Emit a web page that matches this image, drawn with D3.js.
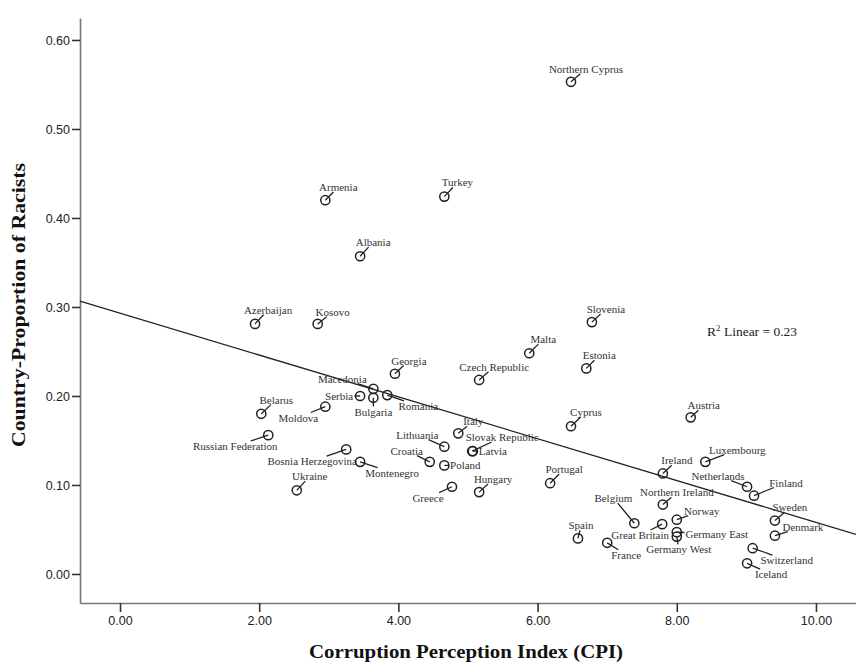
<!DOCTYPE html>
<html>
<head>
<meta charset="utf-8">
<script src="https://cdn.jsdelivr.net/npm/d3@7"></script>
<style>
  html, body { margin: 0; padding: 0; background: #fff; }
  svg { display: block; }
</style>
</head>
<body>
<svg id="chart" width="856" height="667"></svg>
<script>
// Country-level scatter: corruption perception vs. proportion of racists
const countries = [
  "Northern Cyprus", "Armenia", "Turkey", "Albania", "Azerbaijan", "Kosovo",
  "Slovenia", "Malta", "Estonia", "Georgia", "Czech Republic", "Macedonia",
  "Serbia", "Bulgaria", "Romania", "Belarus", "Moldova", "Russian Federation",
  "Bosnia Herzegovina", "Montenegro", "Ukraine", "Lithuania", "Croatia", "Italy",
  "Poland", "Slovak Republic", "Latvia", "Hungary", "Greece", "Portugal",
  "Cyprus", "Spain", "France", "Belgium", "Great Britain", "Northern Ireland",
  "Ireland", "Norway", "Germany East", "Germany West", "Austria", "Luxembourg",
  "Netherlands", "Finland", "Sweden", "Denmark", "Switzerland", "Iceland"
];
const cpi = [
  6.48, 2.95, 4.66, 3.45, 1.94, 2.84,
  6.78, 5.88, 6.70, 3.95, 5.16, 3.64,
  3.45, 3.64, 3.84, 2.03, 2.95, 2.13,
  3.25, 3.45, 2.54, 4.66, 4.45, 4.86,
  4.66, 5.06, 5.07, 5.16, 4.77, 6.18,
  6.48, 6.58, 7.00, 7.39, 7.79, 7.80,
  7.80, 8.00, 8.00, 8.00, 8.20, 8.41,
  9.01, 9.11, 9.41, 9.41, 9.09, 9.01
];
const racists = [
  0.553, 0.420, 0.424, 0.357, 0.281, 0.281,
  0.283, 0.248, 0.231, 0.225, 0.218, 0.208,
  0.200, 0.198, 0.201, 0.180, 0.188, 0.156,
  0.140, 0.126, 0.094, 0.143, 0.126, 0.158,
  0.122, 0.138, 0.138, 0.092, 0.098, 0.102,
  0.166, 0.040, 0.035, 0.057, 0.056, 0.078,
  0.113, 0.061, 0.047, 0.042, 0.176, 0.126,
  0.098, 0.088, 0.060, 0.043, 0.029, 0.012
];
const xTicks = [0, 2, 4, 6, 8, 10];
const yTicks = [0, 0.1, 0.2, 0.3, 0.4, 0.5, 0.6];

// Fitted linear regression
const fitIntercept = 0.293;
const fitSlope = -0.0235;
const rSquared = 0.23;

// Label placement: offset (px) of each label's centre from its point
const labelOffset = {
  "Northern Cyprus": [15, -13], "Armenia": [13, -13], "Turkey": [13, -14],
  "Albania": [13, -14], "Azerbaijan": [13, -14], "Kosovo": [15, -12],
  "Slovenia": [14, -13], "Malta": [14, -14], "Estonia": [13, -13],
  "Georgia": [14, -13], "Czech Republic": [15, -13], "Macedonia": [-31, -10],
  "Serbia": [-21, 0], "Bulgaria": [0, 14], "Romania": [31, 11],
  "Belarus": [15, -14], "Moldova": [-27, 11], "Russian Federation": [-33, 11],
  "Bosnia Herzegovina": [-34, 12], "Montenegro": [32, 11], "Ukraine": [13, -14],
  "Lithuania": [-27, -12], "Croatia": [-23, -11], "Italy": [15, -12],
  "Poland": [21, 0], "Slovak Republic": [30, -14], "Latvia": [20, 0],
  "Hungary": [14, -13], "Greece": [-24, 11], "Portugal": [14, -14],
  "Cyprus": [15, -14], "Spain": [3, -13], "France": [19, 12],
  "Belgium": [-21, -25], "Great Britain": [-22, 11], "Northern Ireland": [14, -12],
  "Ireland": [14, -13], "Norway": [25, -9], "Germany East": [40, 2],
  "Germany West": [2, 13], "Austria": [13, -12], "Luxembourg": [32, -12],
  "Netherlands": [-29, -11], "Finland": [32, -13], "Sweden": [15, -13],
  "Denmark": [28, -9], "Switzerland": [34, 12], "Iceland": [24, 11]
};

const svg = d3.select("#chart");
const plotLeft = 80, plotRight = 856, plotTop = 18, plotBottom = 603;

const x = d3.scaleLinear().domain([-0.575, 10.575]).range([plotLeft, plotRight]);
const y = d3.scaleLinear().domain([-0.0326, 0.6247]).range([plotBottom, plotTop]);

const fmt = d3.format(".2f");

// Axes
const gx = svg.append("g").attr("transform", `translate(0,${plotBottom})`)
  .call(d3.axisBottom(x).tickValues(xTicks).tickFormat(fmt).tickSize(9).tickSizeOuter(0).tickPadding(4));
const gy = svg.append("g").attr("transform", `translate(${plotLeft},0)`)
  .call(d3.axisLeft(y).tickValues(yTicks).tickFormat(fmt).tickSize(8).tickSizeOuter(0).tickPadding(2));

[gx, gy].forEach(g => {
  g.select(".domain").attr("stroke", "#777").attr("stroke-width", 1.6);
  g.selectAll(".tick line").attr("stroke", "#333").attr("stroke-width", 1.6);
  g.selectAll(".tick text")
    .attr("fill", "#222")
    .style("font-family", "'Liberation Sans', Arial, sans-serif")
    .style("font-size", "12.5px");
});
gy.selectAll(".tick text").attr("dy", "0.36em");

// Axis titles (condensed bold serif)
svg.append("text")
  .attr("x", 466).attr("y", 658)
  .attr("text-anchor", "middle")
  .attr("textLength", 314).attr("lengthAdjust", "spacingAndGlyphs")
  .style("font-family", "'Liberation Serif', 'Times New Roman', serif")
  .style("font-weight", "bold").style("font-size", "19.5px")
  .attr("fill", "#111")
  .text("Corruption Perception Index (CPI)");

svg.append("text")
  .attr("transform", `translate(25,305) rotate(-90)`)
  .attr("text-anchor", "middle")
  .attr("textLength", 284).attr("lengthAdjust", "spacingAndGlyphs")
  .style("font-family", "'Liberation Serif', 'Times New Roman', serif")
  .style("font-weight", "bold").style("font-size", "19.5px")
  .attr("fill", "#111")
  .text("Country-Proportion of Racists");

// Regression line across the plot width
const xd = x.domain();
svg.append("line")
  .attr("x1", x(xd[0])).attr("y1", y(fitIntercept + fitSlope * xd[0]))
  .attr("x2", x(xd[1])).attr("y2", y(fitIntercept + fitSlope * xd[1]))
  .attr("stroke", "#222").attr("stroke-width", 1.3);

// R² annotation
const r2 = svg.append("text")
  .attr("x", 707).attr("y", 336)
  .style("font-family", "'Liberation Serif', 'Times New Roman', serif")
  .style("font-size", "13.5px")
  .attr("fill", "#222");
r2.append("tspan").text("R");
r2.append("tspan").attr("dy", -5).style("font-size", "9px").text("2");
r2.append("tspan").attr("dy", 5).text(" Linear = " + fmt(rSquared));

// Points, labels and leader lines
const data = countries.map((c, i) => ({ name: c, x: cpi[i], y: racists[i] }));

const labels = svg.append("g");
const leaders = svg.append("g");
const marks = svg.append("g");

data.forEach(d => {
  const px = x(d.x), py = y(d.y);
  const off = labelOffset[d.name] || [12, -12];
  const t = labels.append("text")
    .attr("x", px + off[0]).attr("y", py + off[1])
    .attr("text-anchor", "middle")
    .attr("dy", "0.35em")
    .style("font-family", "'Liberation Serif', 'Times New Roman', serif")
    .style("font-size", "11px")
    .attr("fill", "#333")
    .text(d.name);
  const b = t.node().getBBox();
  // leader: from the point towards the label centre, stopping at the label box
  const cx = b.x + b.width / 2, cy = b.y + b.height / 2;
  const dx = cx - px, dy = cy - py;
  const hw = b.width / 2 + 1, hh = b.height / 2 - 1;
  const ts = [];
  if (Math.abs(dx) > hw) ts.push((Math.abs(dx) - hw) / Math.abs(dx));
  if (Math.abs(dy) > hh) ts.push((Math.abs(dy) - hh) / Math.abs(dy));
  const s = ts.length ? Math.max(...ts) : 0;
  if (s > 0) {
    leaders.append("line")
      .attr("x1", px).attr("y1", py)
      .attr("x2", px + dx * s).attr("y2", py + dy * s)
      .attr("stroke", "#222").attr("stroke-width", 1.3);
  }
  marks.append("circle")
    .attr("cx", px).attr("cy", py).attr("r", 4.6)
    .attr("fill", "none").attr("stroke", "#222").attr("stroke-width", 1.5);
});
</script>
</body>
</html>
